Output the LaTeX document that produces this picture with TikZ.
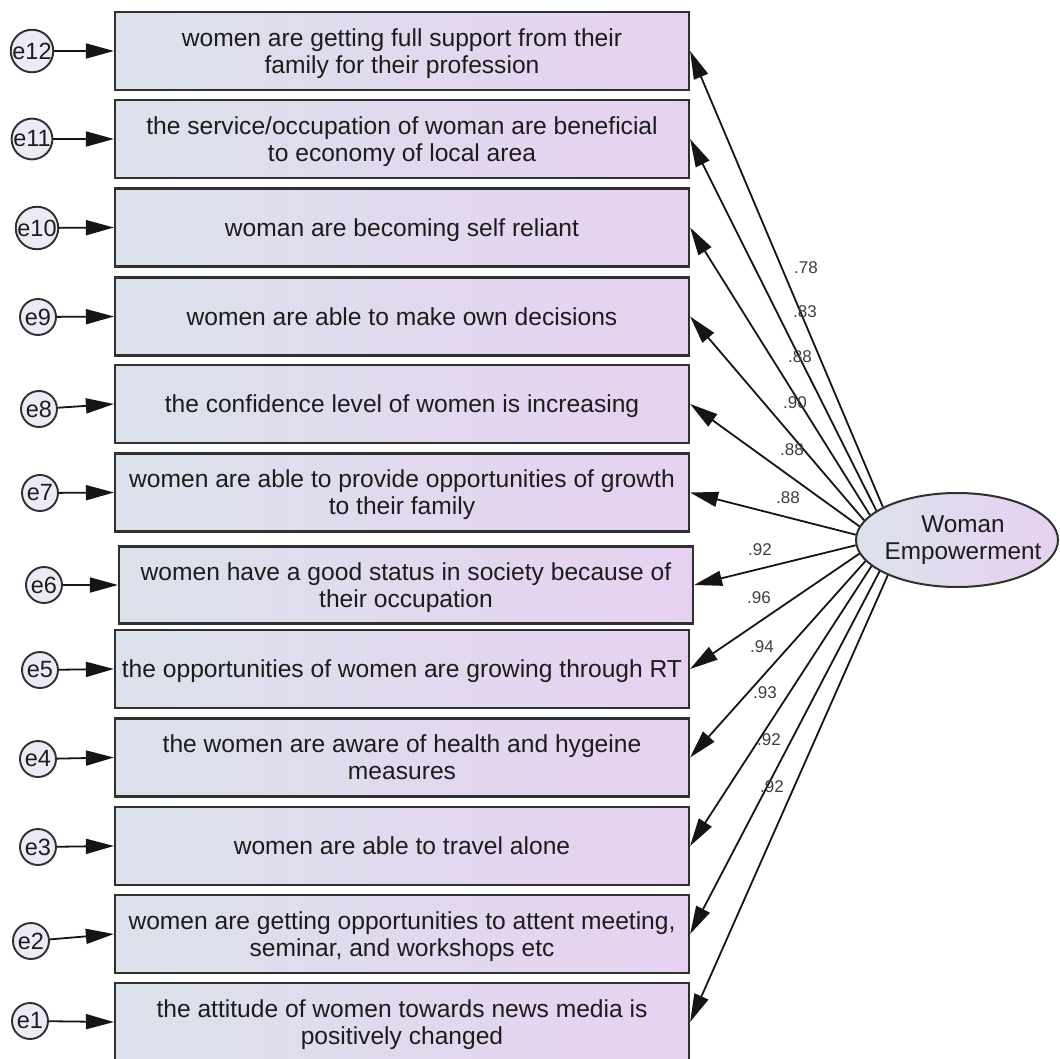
\documentclass[tikz,border=0pt]{standalone}
\usepackage{fontspec}
\setmainfont{Liberation Sans}
\usetikzlibrary{arrows.meta,shapes.geometric}

\definecolor{boxL}{HTML}{DCE2EC}
\definecolor{boxR}{HTML}{E7D1F1}
\definecolor{edge}{HTML}{303030}
\definecolor{wire}{HTML}{151515}
\definecolor{ink}{HTML}{1C1C1C}
\definecolor{errfill}{HTML}{EDE9F5}

\begin{document}
\begin{tikzpicture}[x=1pt,y=-1pt,
  item/.style={draw=edge, line width=2.2pt, left color=boxL, right color=boxR,
    minimum width=574pt, minimum height=78pt, inner sep=0pt, align=center,
    font=\fontsize{24.6}{27}\selectfont, text=ink},
  oneline/.style={text height=22.9pt, text depth=5.2pt},
  twoline/.style={text height=49.9pt, text depth=5.2pt},
  err/.style={circle, draw=edge, line width=1.9pt, fill=errfill,
    minimum size=36pt, inner sep=0pt, font=\fontsize{23.5}{23.5}\selectfont, text=ink},
  latent/.style={ellipse, draw=edge, line width=2pt, left color=boxL, right color=boxR,
    minimum width=202pt, minimum height=94pt, inner sep=0pt},
  load/.style={font=\fontsize{17}{17}\selectfont, text=ink!85, inner sep=0pt},
  link/.style={draw=wire, line width=1.8pt, -{Triangle[length=28pt,width=15pt]}},
]
\clip (0,0) rectangle (1060,1059);
\fill[white] (0,0) rectangle (1060,1059);

% observed indicators
\node[item, twoline] (b12) at (402,51)    {women are getting full support from their\\family for their profession};
\node[item, twoline] (b11) at (402,139)   {the service/occupation of woman are beneficial\\to economy of local area};
\node[item, oneline] (b10) at (402,227.5) {woman are becoming self reliant};
\node[item, oneline] (b9)  at (402,316.5) {women are able to make own decisions};
\node[item, oneline] (b8)  at (402,404)   {the confidence level of women is increasing};
\node[item, twoline] (b7)  at (402,492.5) {women are able to provide opportunities of growth\\to their family};
\node[item, twoline, minimum height=77pt] (b6) at (406,585) {women have a good status in society because of\\their occupation};
\node[item, oneline] (b5)  at (402,669)   {the opportunities of women are growing through RT};
\node[item, twoline] (b4)  at (402,757.5) {the women are aware of health and hygeine\\measures};
\node[item, oneline] (b3)  at (402,846)   {women are able to travel alone};
\node[item, twoline] (b2)  at (402,934)   {women are getting opportunities to attent meeting,\\seminar, and workshops etc};
\node[item, twoline] (b1)  at (402,1022)  {the attitude of women towards news media is\\positively changed};

% error terms
\node[err] (e12) at (32,51)   {e12};
\node[err] (e11) at (32,139)  {e11};
\node[err] (e10) at (37,228)  {e10};
\node[err] (e9)  at (38,317)  {e9};
\node[err] (e8)  at (39,409)  {e8};
\node[err] (e7)  at (40,493)  {e7};
\node[err] (e6)  at (44,585)  {e6};
\node[err] (e5)  at (40,670)  {e5};
\node[err] (e4)  at (38,759)  {e4};
\node[err] (e3)  at (38,847)  {e3};
\node[err] (e2)  at (31,941)  {e2};
\node[err] (e1)  at (30,1021) {e1};

\foreach \i in {1,...,12} \draw[link] (e\i) -- (b\i.west);

% latent factor
\node[latent] (lv) at (957,540) {};
\node[font=\fontsize{24.3}{27}\selectfont, align=center, text=ink, inner sep=0pt] (lvtext) at (963,540) {Woman\\Empowerment};

\draw[link] (lv.156)   -- (b12.east);
\draw[link] (lv.160.2) -- (b11.east);
\draw[link] (lv.164.4) -- (b10.east);
\draw[link] (lv.168.6) -- (b9.east);
\draw[link] (lv.172.8) -- (b8.east);
\draw[link] (lv.177)   -- (b7.east);
\draw[link] (lv.183.4) -- (b6.east);
\draw[link] (lv.188.2) -- (b5.east);
\draw[link] (lv.193.1) -- (b4.east);
\draw[link] (lv.197.9) -- (b3.east);
\draw[link] (lv.202.8) -- (b2.east);
\draw[link] (lv.207.6) -- (b1.east);

% standardized loadings
\node[load] (l12) at (806,268) {.78};
\node[load] (l11) at (805,312) {.83};
\node[load] (l10) at (800,357) {.88};
\node[load] (l9)  at (795,403) {.90};
\node[load] (l8)  at (792,450) {.88};
\node[load] (l7)  at (788,498) {.88};
\node[load] (l6)  at (760,550) {.92};
\node[load] (l5)  at (759,598) {.96};
\node[load] (l4)  at (762,647) {.94};
\node[load] (l3)  at (765,693) {.93};
\node[load] (l2)  at (769,740) {.92};
\node[load] (l1)  at (772,787) {.92};
\end{tikzpicture}
\end{document}
